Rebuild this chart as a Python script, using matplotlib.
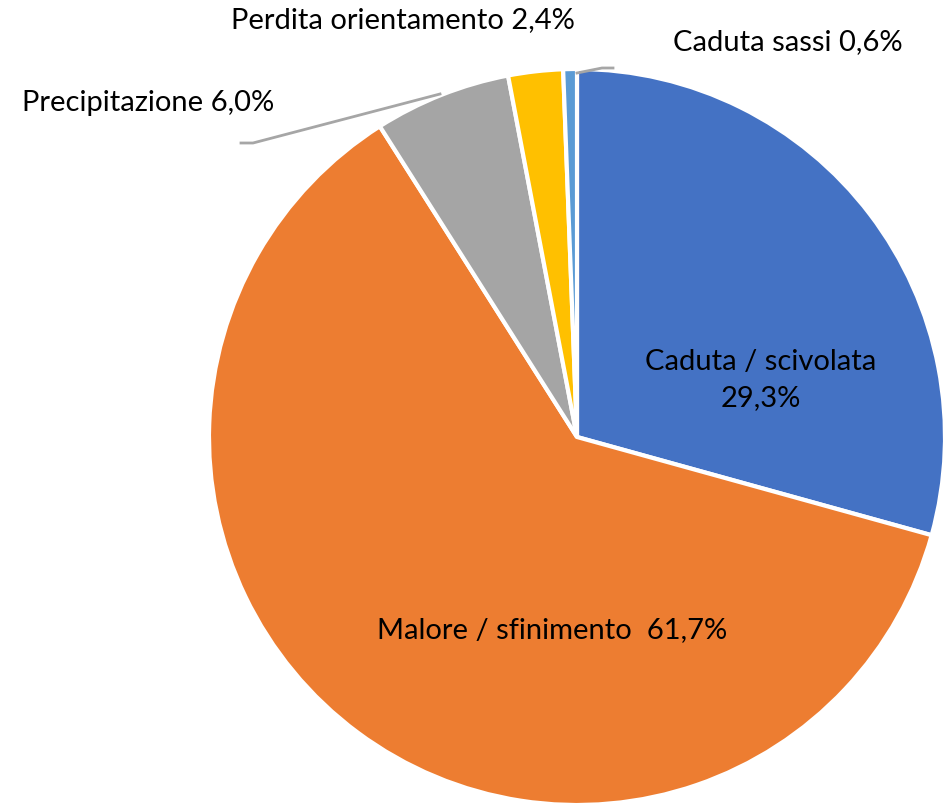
import matplotlib.pyplot as plt

categories = ['Caduta / scivolata', 'Malore / sfinimento', 'Precipitazione',
              'Perdita orientamento', 'Caduta sassi']
values = [29.3, 61.7, 6.0, 2.4, 0.6]
colors = ['#4472C4', '#ED7D31', '#A5A5A5', '#FFC000', '#5B9BD5']

W, H = 943, 805


def fmt(v):
    return f'{v:.1f}%'.replace('.', ',')


fig = plt.figure(figsize=(W / 100, H / 100), dpi=100)
ax = fig.add_axes([0, 0, 1, 1])

ax.pie(values, colors=colors, startangle=90, counterclock=False,
       center=(577, H - 437), radius=368,
       wedgeprops=dict(edgecolor='white', linewidth=3))

ax.set_xlim(0, W)
ax.set_ylim(0, H)
ax.set_aspect('equal')
ax.axis('off')

font = dict(family='Lato', fontsize=21, color='black')

# etichette
ax.text(761, H - 380, f'{categories[0]}\n{fmt(values[0])}', ha='center', va='center',
        linespacing=1.45, **font)
ax.text(552, H - 630, f'{categories[1]}  {fmt(values[1])}', ha='center', va='center', **font)
ax.text(22, H - 103, f'{categories[2]} {fmt(values[2])}', ha='left', va='center', **font)
ax.text(403, H - 20, f'{categories[3]} {fmt(values[3])}', ha='center', va='center', **font)
ax.text(903, H - 42, f'{categories[4]} {fmt(values[4])}', ha='right', va='center', **font)

# linee guida
ax.plot([440, 253, 241], [H - 94, H - 143, H - 143], color='#A6A6A6', lw=2)
ax.plot([577, 602, 613], [H - 73, H - 68, H - 68], color='#A6A6A6', lw=2)

fig.savefig('out.png', dpi=100)
